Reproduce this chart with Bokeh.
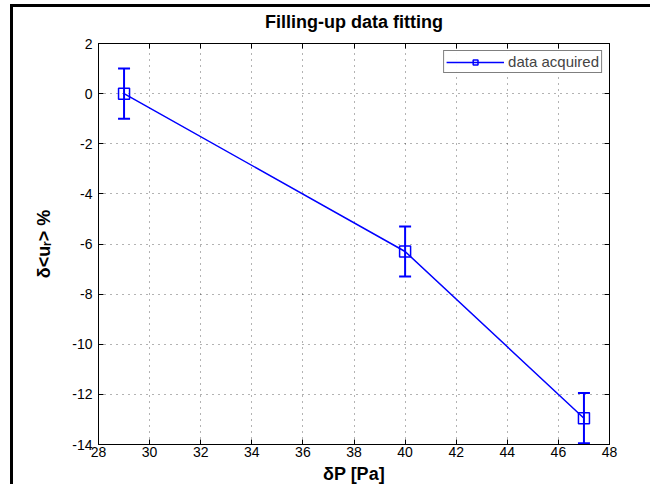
from bokeh.plotting import figure
from bokeh.models import (ColumnDataSource, Whisker, TeeHead, LinearAxis, FixedTicker, Range1d,
                          InlineStyleSheet)
from bokeh.embed import file_html
from bokeh.resources import INLINE

# data
dP = [29, 40, 47]
du = [0.0, -6.3, -12.95]
err = [1.0, 1.0, 1.0]
x_ticks = [28, 30, 32, 34, 36, 38, 40, 42, 44, 46, 48]
y_ticks = [2, 0, -2, -4, -6, -8, -10, -12, -14]
title_text = "Filling-up data fitting"

src = ColumnDataSource(dict(
    x=dP, y=du,
    lo=[v - e for v, e in zip(du, err)],
    hi=[v + e for v, e in zip(du, err)],
))

BLUE = "#0000ff"
FONT = "Liberation Sans"

p = figure(width=640, height=480, output_backend="svg", toolbar_location=None,
           x_range=Range1d(28, 48), y_range=Range1d(-14, 2),
           min_border_left=85, min_border_right=44, min_border_top=36, min_border_bottom=43,
           margin=(4, 0, 0, 10))

p.stylesheets = [InlineStyleSheet(css=":host { border-top: 3px solid black; border-left: 3px solid black; }")]

p.outline_line_color = "black"
p.outline_line_width = 1
p.background_fill_color = "white"
p.border_fill_color = "white"

for g in (p.xgrid, p.ygrid):
    g.grid_line_color = "black"
    g.grid_line_alpha = 0.6
    g.grid_line_dash = "1 5"
    g.grid_line_width = 1
p.xgrid.ticker = FixedTicker(ticks=x_ticks)
p.ygrid.ticker = FixedTicker(ticks=y_ticks)

p.xaxis.ticker = FixedTicker(ticks=x_ticks)
p.yaxis.ticker = FixedTicker(ticks=y_ticks)
p.xaxis.major_label_overrides = {t: str(t) for t in x_ticks}
p.yaxis.major_label_overrides = {t: str(t) for t in y_ticks}
p.xaxis.axis_label = "δP [Pa]"
p.yaxis.axis_label = "δ<uᵣ> %"
for ax in (p.xaxis[0], p.yaxis[0]):
    ax.major_tick_in = 5
    ax.major_tick_out = 0
    ax.minor_tick_line_color = None
    ax.axis_line_color = "black"
    ax.major_tick_line_color = "black"
    ax.major_label_text_font = FONT
    ax.major_label_text_font_size = "14px"
    ax.major_label_text_color = "black"
    ax.axis_label_text_font = FONT
    ax.axis_label_text_font_size = "18px"
    ax.axis_label_text_font_style = "bold"
    ax.axis_label_text_color = "black"
p.xaxis.major_label_standoff = 2
p.xaxis.axis_label_standoff = 4
p.yaxis.major_label_standoff = 6
p.yaxis.axis_label_standoff = 15

# box ticks on top and right; the top one carries the chart title
for loc, tk in (("above", x_ticks), ("right", y_ticks)):
    ax = LinearAxis(ticker=FixedTicker(ticks=tk))
    ax.major_label_overrides = {t: "" for t in tk}
    ax.major_tick_in = 5
    ax.major_tick_out = 0
    ax.minor_tick_line_color = None
    ax.major_label_text_font_size = "1px"
    ax.major_label_standoff = 0
    ax.axis_line_color = "black"
    if loc == "above":
        ax.axis_label = title_text
        ax.axis_label_text_font = FONT
        ax.axis_label_text_font_size = "18px"
        ax.axis_label_text_font_style = "bold"
        ax.axis_label_text_color = "black"
        ax.axis_label_standoff = 12
    p.add_layout(ax, loc)

p.line("x", "y", source=src, line_color=BLUE, line_width=1.5, legend_label="data acquired")
p.scatter("x", "y", source=src, marker="square", size=11, fill_color=None,
          line_color=BLUE, line_width=1.5, legend_label="data acquired")

head = dict(size=12, line_color=BLUE, line_width=2)
w = Whisker(source=src, base="x", upper="hi", lower="lo", line_color=BLUE, line_width=2,
            upper_head=TeeHead(**head), lower_head=TeeHead(**head))
p.add_layout(w)

lg = p.legend[0]
lg.location = "top_right"
lg.margin = 7
lg.padding = 2
lg.border_line_color = "black"
lg.border_line_width = 1
lg.label_text_font = FONT
lg.label_text_font_size = "15px"
lg.label_standoff = 4
lg.glyph_width = 58
lg.glyph_height = 12
lg.spacing = 0

open("out.html", "w").write(file_html(p, INLINE))
